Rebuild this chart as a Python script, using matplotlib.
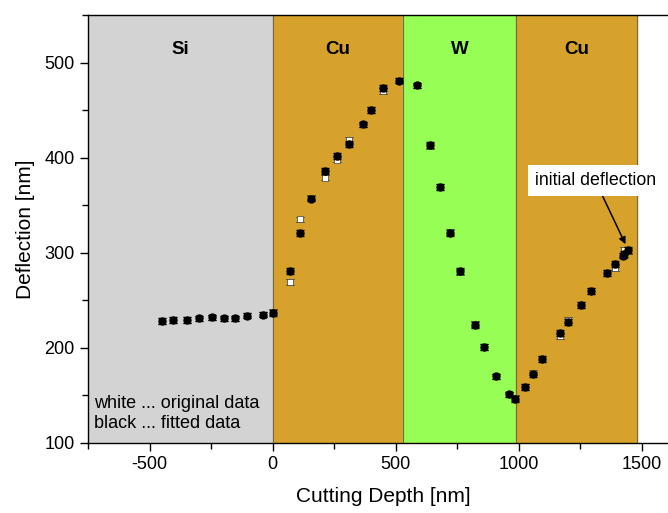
import matplotlib.pyplot as plt
import numpy as np

plt.rcParams['font.family'] = ['Liberation Sans', 'DejaVu Sans']
plt.rcParams['axes.unicode_minus'] = False

# material regions (cutting depth in nm)
region_names = ['Si', 'Cu', 'W', 'Cu']
region_edges = [-750, 0, 530, 990, 1480]
region_colors = ['#d3d3d3', '#d6a22b', '#96fe55', '#d6a22b']

depth = [-450, -403, -349, -299, -245, -197, -154, -103, -38, 3,
         70, 111, 154, 212, 262, 310, 368, 400, 449, 514,
         587, 638, 678, 722, 762, 823, 857, 908, 960, 983,
         1026, 1057, 1095, 1169, 1200, 1253, 1295, 1356, 1391, 1421, 1427, 1444]

original = [228, 229, 229, 231, 232, 231, 231, 234, 235, 238,
            269, 335, 358, 379, 398, 419, 435, 450, 470, 481,
            476, 412, 369, 322, 280, 225, 201, 170, 151, 147,
            159, 174, 188, 212, 229, 245, 260, 279, 284, 297, 303, 302]

fitted = [228, 229, 229, 231, 232, 231, 231, 234, 235, 237,
          281, 321, 357, 386, 402, 414, 435, 450, 473, 481,
          476, 413, 369, 321, 281, 224, 201, 170, 151, 146,
          159, 172, 188, 216, 227, 245, 260, 279, 288, 297, 299, 303]

err = 3

fig = plt.figure(figsize=(6.68, 5.13), dpi=100)
ax = fig.add_axes([0.1317, 0.1365, 0.8846, 0.8343])

for i in range(len(region_names)):
    ax.axvspan(region_edges[i], region_edges[i + 1], color=region_colors[i], zorder=0)
    ax.axvline(region_edges[i + 1], color='#6e6a45', lw=0.8, zorder=1)
    ax.text((region_edges[i] + region_edges[i + 1]) / 2, 514, region_names[i],
            ha='center', va='center', fontsize=13.5, fontweight='bold')

ax.errorbar(depth, original, yerr=err, fmt='s', ms=5, mfc='white', mec='#555555',
            mew=0.6, ecolor='black', elinewidth=0.8, capsize=3, zorder=3)
ax.errorbar(depth, fitted, yerr=err, fmt='o', ms=5, mfc='black', mec='black',
            ecolor='black', elinewidth=0.8, capsize=3, zorder=4)

ax.annotate('initial deflection', xy=(1433, 309), xytext=(1310, 376),
            fontsize=12.8, ha='center', va='center',
            bbox=dict(boxstyle='square,pad=0.4', fc='white', ec='none'),
            arrowprops=dict(arrowstyle='-|>', color='black', lw=1.1,
                            shrinkA=0, shrinkB=0, mutation_scale=10),
            zorder=5)

ax.text(-726, 142, 'white ... original data', fontsize=13, va='center')
ax.text(-726, 121, 'black ... fitted data', fontsize=13, va='center')

ax.set_xlim(-750, 1650)
ax.set_ylim(100, 550)
ax.set_xticks([-500, 0, 500, 1000, 1500])
ax.set_xticks(np.arange(-750, 1651, 250), minor=True)
ax.set_yticks([100, 200, 300, 400, 500])
ax.set_yticks(np.arange(100, 551, 50), minor=True)
ax.tick_params(which='major', direction='out', length=6, width=1, labelsize=13)
ax.tick_params(which='minor', direction='out', length=4, width=1)
ax.spines['right'].set_visible(False)
for s in ['left', 'bottom', 'top']:
    ax.spines[s].set_linewidth(1)
    ax.spines[s].set_zorder(6)

ax.set_xlabel('Cutting Depth [nm]', fontsize=15, labelpad=10)
ax.set_ylabel('Deflection [nm]', fontsize=15, labelpad=7)

plt.savefig('out.png', dpi=100)
